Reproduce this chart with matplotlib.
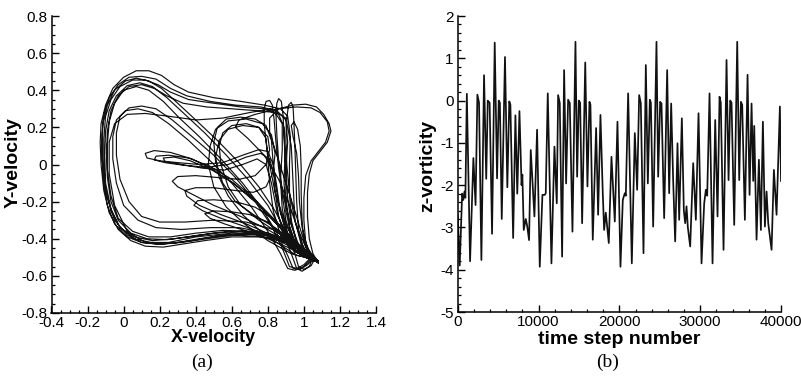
"""Phase portrait of the velocity probe and the z-vorticity time history."""
import matplotlib
matplotlib.use('Agg')
import matplotlib.pyplot as plt
import matplotlib.ticker as mticker
import numpy as np

# --- z-vorticity history: (time step, value) at the turning points of the signal ---
ts_step = [
    0, 250, 550, 700, 850, 950, 1130, 1530, 1940, 2210, 2435, 2640, 2930, 3260,
    3530, 3720, 3950, 4250, 4580, 4870, 5076, 5220, 5450, 5850, 6140, 6380,
    6520, 6860, 7140, 7370, 7640, 7900, 8000, 8171, 8419, 8584, 8831, 9038,
    9492, 9822, 10153,
    10483, 10772, 10895, 11143, 11597, 11969, 12258, 12423, 12629, 12918,
    13166, 13413, 13661, 13868, 14198, 14570, 14776, 14982, 15150, 15395,
    15780, 16052, 16299, 16423, 16712, 17125, 17373, 17662, 17951, 18116,
    18322, 18487, 18694, 19024, 19436, 19767, 20138,
    20427, 20675, 20799, 21088, 21542, 21913, 22202, 22450, 22656, 22987,
    23276, 23524, 23771, 23900, 24182, 24595, 24801, 25049, 25214, 25544,
    25916, 26163, 26411, 26659, 26906, 27195, 27401, 27732, 27979, 28145,
    28310, 28475, 28764, 29136, 29466, 29796, 30167,
    30497, 30704, 30869, 31158, 31530, 31860, 32147, 32395, 32550, 32890,
    33261, 33509, 33715, 33881, 34211, 34582, 34830, 35036, 35200, 35531,
    35862, 36109, 36357, 36563, 36687, 36976, 37265, 37512, 37760, 38008,
    38214, 38420, 38833, 39121, 39451, 39864, 40000,
]
ts_vort = [
    -2.7, -3.9, -2.2, -2.35, -2.15, -2.3, 0.16, -3.8, -1.36, -2.47, 0.14, -0.05,
    -3.77, 0.6, -1.85, 0.0, -0.05, -3.15, 1.37, -1.84, 0.0, -0.05, -2.8, 1.03,
    -2.05, -0.02, -0.1, -3.25, -0.35, -2.2, -0.25, -2.0, -1.75, -3.06, -2.8,
    -2.95, -3.3, -1.17, -2.74, -0.69, -3.93,
    -2.23, -2.23, -2.19, 0.17, -3.85, -1.09, -2.43, 0.13, -0.06, -3.69, 0.72,
    -1.96, 0.02, -0.06, -3.1, 1.39, -1.8, 0.0, -0.05, -2.9, 0.9, -2.03, -0.03,
    -0.1, -3.29, -0.65, -2.7, -0.34, -2.2, -3.06, -2.65, -2.97, -3.37, -1.33,
    -2.86, -0.5, -3.93,
    -2.35, -2.19, -2.25, 0.17, -3.85, -0.77, -2.11, 0.13, -0.06, -3.61, 0.84,
    -1.96, 0.02, -0.05, -2.98, 1.39, -1.8, -0.03, -0.07, -2.78, 0.72, -2.19,
    -0.07, -1.9, -3.33, -1.01, -2.82, -0.42, -2.6, -2.9, -2.5, -3.0, -3.45,
    -1.48, -2.82, -0.3, -3.85,
    -2.43, -2.11, -2.25, 0.17, -3.85, -0.46, -2.74, 0.09, -0.05, -3.53, 0.96,
    -1.88, 0.0, -0.05, -2.94, 1.39, -1.88, -0.03, -0.1, -2.82, 0.61, -2.23,
    -0.07, -1.9, -0.6, -3.29, -1.4, -3.06, -0.5, -2.98, -2.15, -2.9, -3.53,
    -1.64, -2.7, -0.14, -1.9,
]

# --- (X-velocity, Y-velocity) orbit, traced loop by loop through the lower-right cusp ---
# big loops: bottom band -> left side -> top -> upper-right corner -> down to cusp
outer_loops = [
    [(1.08, -0.53), (1.02, -0.49), (0.95, -0.44), (0.88, -0.41), (0.75, -0.39),
     (0.6, -0.39), (0.45, -0.41), (0.32, -0.43), (0.22, -0.445), (0.12, -0.44),
     (0.04, -0.41), (-0.03, -0.35), (-0.08, -0.26), (-0.11, -0.14), (-0.125, 0.0),
     (-0.13, 0.12), (-0.125, 0.22), (-0.1, 0.32), (-0.06, 0.41), (0.0, 0.47),
     (0.07, 0.505), (0.14, 0.505), (0.21, 0.48), (0.28, 0.43), (0.36, 0.39),
     (0.5, 0.36), (0.65, 0.34), (0.78, 0.32), (0.87, 0.3), (0.91, 0.26),
     (0.925, 0.15), (0.92, 0.0), (0.92, -0.15), (0.93, -0.3), (0.96, -0.42),
     (1.01, -0.49), (1.08, -0.53)],
    [(1.07, -0.52), (1.0, -0.47), (0.93, -0.42), (0.85, -0.39), (0.72, -0.375),
     (0.56, -0.38), (0.42, -0.4), (0.3, -0.42), (0.2, -0.43), (0.1, -0.42),
     (0.02, -0.39), (-0.05, -0.32), (-0.09, -0.22), (-0.11, -0.1), (-0.12, 0.04),
     (-0.12, 0.16), (-0.11, 0.27), (-0.08, 0.36), (-0.03, 0.43), (0.03, 0.47),
     (0.1, 0.475), (0.18, 0.46), (0.26, 0.41), (0.35, 0.37), (0.48, 0.34),
     (0.62, 0.32), (0.76, 0.31), (0.85, 0.29), (0.9, 0.24), (0.91, 0.12),
     (0.9, -0.02), (0.9, -0.18), (0.92, -0.33), (0.96, -0.44), (1.01, -0.5),
     (1.07, -0.52)],
    [(1.06, -0.52), (0.99, -0.46), (0.91, -0.41), (0.82, -0.385), (0.68, -0.375),
     (0.52, -0.385), (0.38, -0.41), (0.26, -0.425), (0.15, -0.42), (0.06, -0.4),
     (-0.02, -0.34), (-0.07, -0.25), (-0.1, -0.13), (-0.11, 0.0), (-0.11, 0.14),
     (-0.1, 0.26), (-0.07, 0.35), (-0.02, 0.42), (0.05, 0.455), (0.12, 0.455),
     (0.19, 0.43), (0.26, 0.39), (0.36, 0.35), (0.5, 0.33), (0.65, 0.31),
     (0.78, 0.3), (0.86, 0.27), (0.89, 0.2), (0.895, 0.05), (0.89, -0.1),
     (0.9, -0.25), (0.93, -0.38), (0.98, -0.47), (1.06, -0.52)],
    [(1.06, -0.51), (0.98, -0.45), (0.9, -0.4), (0.8, -0.37), (0.65, -0.36),
     (0.5, -0.37), (0.36, -0.39), (0.24, -0.405), (0.13, -0.4), (0.04, -0.37),
     (-0.03, -0.3), (-0.07, -0.2), (-0.09, -0.07), (-0.095, 0.06), (-0.09, 0.18),
     (-0.07, 0.29), (-0.03, 0.37), (0.03, 0.42), (0.1, 0.43), (0.17, 0.41),
     (0.24, 0.37), (0.33, 0.33), (0.46, 0.31), (0.6, 0.3), (0.74, 0.29),
     (0.84, 0.28), (0.88, 0.22), (0.88, 0.08), (0.87, -0.08), (0.88, -0.24),
     (0.91, -0.37), (0.97, -0.46), (1.06, -0.51)],
    [(1.05, -0.52), (0.95, -0.44), (0.8, -0.38), (0.6, -0.37), (0.4, -0.39),
     (0.25, -0.42), (0.12, -0.42), (0.02, -0.36), (-0.05, -0.22), (-0.08, -0.05),
     (-0.08, 0.12), (-0.05, 0.22), (0.02, 0.27), (0.12, 0.275), (0.25, 0.26),
     (0.4, 0.24), (0.55, 0.25), (0.7, 0.28), (0.82, 0.3), (0.9, 0.25),
     (0.93, 0.1), (0.94, -0.1), (0.95, -0.3), (0.99, -0.45), (1.05, -0.52)],
]
# loops that come back from the top-left straight across to the cusp
diagonal_loops = [
    [(1.06, -0.51), (0.98, -0.46), (0.9, -0.42), (0.78, -0.39), (0.62, -0.38),
     (0.46, -0.4), (0.32, -0.42), (0.2, -0.43), (0.1, -0.42), (0.02, -0.38),
     (-0.05, -0.3), (-0.09, -0.18), (-0.115, -0.04), (-0.12, 0.1), (-0.115, 0.22),
     (-0.09, 0.32), (-0.05, 0.4), (0.01, 0.45), (0.07, 0.465), (0.14, 0.45),
     (0.21, 0.41), (0.3, 0.33), (0.4, 0.24), (0.52, 0.13), (0.64, 0.01),
     (0.75, -0.12), (0.84, -0.25), (0.91, -0.38), (0.95, -0.48), (0.97, -0.55),
     (1.0, -0.565), (1.04, -0.545), (1.06, -0.51)],
    [(1.05, -0.5), (0.97, -0.44), (0.88, -0.4), (0.75, -0.37), (0.58, -0.36),
     (0.42, -0.38), (0.28, -0.4), (0.16, -0.41), (0.06, -0.39), (-0.02, -0.34),
     (-0.07, -0.24), (-0.1, -0.1), (-0.105, 0.05), (-0.1, 0.18), (-0.08, 0.29),
     (-0.04, 0.37), (0.02, 0.425), (0.09, 0.44), (0.16, 0.42), (0.24, 0.36),
     (0.34, 0.27), (0.45, 0.17), (0.57, 0.05), (0.69, -0.08), (0.8, -0.22),
     (0.88, -0.36), (0.93, -0.48), (0.96, -0.56), (0.99, -0.575), (1.03, -0.55),
     (1.05, -0.5)],
    [(1.05, -0.51), (0.96, -0.43), (0.86, -0.39), (0.72, -0.36), (0.55, -0.355),
     (0.4, -0.37), (0.26, -0.39), (0.14, -0.39), (0.05, -0.36), (-0.03, -0.29),
     (-0.07, -0.17), (-0.09, -0.03), (-0.09, 0.11), (-0.08, 0.23), (-0.05, 0.33),
     (0.0, 0.4), (0.07, 0.42), (0.14, 0.4), (0.22, 0.34), (0.31, 0.25),
     (0.42, 0.15), (0.54, 0.03), (0.66, -0.1), (0.77, -0.24), (0.85, -0.37),
     (0.91, -0.49), (0.94, -0.56), (0.98, -0.565), (1.02, -0.54), (1.05, -0.51)],
    [(1.04, -0.5), (0.95, -0.42), (0.83, -0.35), (0.68, -0.31), (0.5, -0.3),
     (0.34, -0.31), (0.2, -0.31), (0.1, -0.28), (0.03, -0.2), (-0.02, -0.08),
     (-0.04, 0.05), (-0.04, 0.17), (-0.02, 0.26), (0.03, 0.305), (0.1, 0.315),
     (0.18, 0.3), (0.27, 0.24), (0.38, 0.15), (0.5, 0.05), (0.62, -0.07),
     (0.73, -0.2), (0.82, -0.33), (0.88, -0.45), (0.92, -0.55), (0.96, -0.56),
     (1.0, -0.54), (1.04, -0.5)],
    [(1.04, -0.51), (0.94, -0.43), (0.8, -0.37), (0.64, -0.34), (0.48, -0.34),
     (0.32, -0.35), (0.18, -0.34), (0.08, -0.3), (0.0, -0.22), (-0.04, -0.1),
     (-0.06, 0.03), (-0.06, 0.15), (-0.04, 0.24), (0.01, 0.29), (0.08, 0.3),
     (0.16, 0.28), (0.25, 0.22), (0.36, 0.13), (0.48, 0.02), (0.6, -0.1),
     (0.71, -0.23), (0.8, -0.36), (0.87, -0.48), (0.91, -0.56), (0.95, -0.57),
     (1.0, -0.55), (1.04, -0.51)],
]
# narrow loops reaching left into the middle of the attractor
inner_loops = [
    [(1.05, -0.5), (0.95, -0.42), (0.85, -0.32), (0.74, -0.21), (0.62, -0.11),
     (0.5, -0.03), (0.38, 0.03), (0.26, 0.065), (0.17, 0.075), (0.12, 0.06),
     (0.13, 0.035), (0.2, 0.02), (0.3, 0.01), (0.42, 0.0), (0.55, 0.01),
     (0.66, 0.05), (0.75, 0.08), (0.8, 0.07), (0.83, 0.0), (0.85, -0.12),
     (0.87, -0.26), (0.91, -0.38), (0.97, -0.46), (1.05, -0.5)],
    [(1.04, -0.49), (0.94, -0.4), (0.83, -0.29), (0.72, -0.18), (0.6, -0.08),
     (0.48, -0.01), (0.36, 0.035), (0.25, 0.05), (0.18, 0.045), (0.17, 0.025),
     (0.23, 0.01), (0.34, -0.005), (0.46, -0.015), (0.58, 0.0), (0.68, 0.04),
     (0.76, 0.06), (0.81, 0.03), (0.84, -0.08), (0.86, -0.22), (0.9, -0.36),
     (0.96, -0.45), (1.04, -0.49)],
    [(1.04, -0.5), (0.94, -0.41), (0.84, -0.31), (0.73, -0.2), (0.61, -0.1),
     (0.49, -0.03), (0.37, 0.02), (0.28, 0.04), (0.22, 0.035), (0.23, 0.015),
     (0.32, 0.0), (0.44, -0.02), (0.56, -0.03), (0.66, 0.0), (0.74, 0.03),
     (0.79, 0.0), (0.82, -0.1), (0.85, -0.25), (0.89, -0.37), (0.95, -0.46),
     (1.04, -0.5)],
    [(1.03, -0.5), (0.93, -0.43), (0.8, -0.35), (0.65, -0.28), (0.5, -0.22),
     (0.38, -0.16), (0.3, -0.12), (0.27, -0.09), (0.3, -0.065), (0.4, -0.06),
     (0.52, -0.07), (0.64, -0.08), (0.73, -0.06), (0.79, 0.0), (0.81, 0.08),
     (0.8, 0.15), (0.75, 0.2), (0.66, 0.21), (0.58, 0.19), (0.53, 0.13),
     (0.51, 0.04), (0.53, -0.07), (0.58, -0.17), (0.66, -0.27), (0.76, -0.36),
     (0.88, -0.44), (0.96, -0.49), (1.03, -0.5)],
    [(1.04, -0.51), (0.94, -0.44), (0.82, -0.38), (0.68, -0.32), (0.54, -0.27),
     (0.42, -0.22), (0.35, -0.17), (0.34, -0.14), (0.4, -0.125), (0.5, -0.125),
     (0.62, -0.14), (0.72, -0.15), (0.79, -0.12), (0.83, -0.04), (0.84, 0.06),
     (0.82, 0.16), (0.77, 0.22), (0.68, 0.245), (0.58, 0.235), (0.51, 0.19),
     (0.48, 0.1), (0.47, 0.0), (0.5, -0.12), (0.57, -0.23), (0.67, -0.32),
     (0.8, -0.41), (0.93, -0.48), (1.04, -0.51)],
    [(1.02, -0.5), (0.92, -0.44), (0.8, -0.38), (0.66, -0.33), (0.54, -0.29),
     (0.44, -0.25), (0.39, -0.22), (0.41, -0.195), (0.5, -0.19), (0.62, -0.2),
     (0.73, -0.23), (0.81, -0.28), (0.88, -0.35), (0.95, -0.44), (1.02, -0.5)],
    [(1.03, -0.51), (0.92, -0.45), (0.8, -0.4), (0.67, -0.355), (0.56, -0.32),
     (0.48, -0.29), (0.45, -0.265), (0.5, -0.25), (0.6, -0.255), (0.7, -0.27),
     (0.8, -0.31), (0.88, -0.38), (0.95, -0.46), (1.03, -0.51)],
    [(1.05, -0.5), (0.95, -0.42), (0.84, -0.34), (0.72, -0.27), (0.62, -0.2),
     (0.55, -0.1), (0.51, 0.02), (0.5, 0.12), (0.52, 0.2), (0.57, 0.245),
     (0.65, 0.255), (0.73, 0.245), (0.79, 0.21), (0.82, 0.13), (0.83, 0.0),
     (0.84, -0.14), (0.86, -0.28), (0.9, -0.4), (0.97, -0.48), (1.05, -0.5)],
    [(1.05, -0.51), (0.96, -0.44), (0.86, -0.37), (0.75, -0.3), (0.65, -0.22),
     (0.58, -0.12), (0.54, 0.0), (0.53, 0.1), (0.55, 0.17), (0.6, 0.21),
     (0.68, 0.22), (0.75, 0.2), (0.79, 0.14), (0.8, 0.03), (0.81, -0.1),
     (0.83, -0.25), (0.87, -0.38), (0.95, -0.47), (1.05, -0.51)],
]
# right-hand lobe and the thin spikes at the top right
lobe_loops = [
    [(1.08, -0.53), (1.03, -0.47), (0.99, -0.38), (0.95, -0.25), (0.9, -0.1),
     (0.85, 0.05), (0.81, 0.17), (0.81, 0.25), (0.86, 0.3), (0.94, 0.32),
     (1.01, 0.325), (1.07, 0.31), (1.11, 0.27), (1.14, 0.22), (1.15, 0.18),
     (1.13, 0.12), (1.09, 0.07), (1.05, 0.02), (1.03, -0.05), (1.02, -0.15),
     (1.02, -0.28), (1.03, -0.4), (1.05, -0.48), (1.08, -0.53)],
    [(1.08, -0.52), (1.02, -0.46), (0.97, -0.36), (0.92, -0.22), (0.86, -0.08),
     (0.78, 0.05), (0.69, 0.14), (0.62, 0.2), (0.64, 0.24), (0.73, 0.27),
     (0.85, 0.3), (0.96, 0.31), (1.04, 0.305), (1.09, 0.28), (1.13, 0.23),
     (1.14, 0.18), (1.12, 0.12), (1.08, 0.07), (1.04, 0.02), (1.01, -0.06),
     (1.0, -0.18), (1.0, -0.3), (1.01, -0.42), (1.04, -0.49), (1.08, -0.52)],
    [(1.07, -0.52), (1.02, -0.45), (0.99, -0.34), (0.975, -0.2), (0.97, -0.06),
     (0.96, 0.06), (0.94, 0.15), (0.93, 0.21), (0.945, 0.23), (0.965, 0.19),
     (0.98, 0.1), (0.985, -0.02), (0.985, -0.16), (0.99, -0.3), (1.0, -0.42),
     (1.03, -0.49), (1.07, -0.52)],
    [(1.02, -0.5), (0.95, -0.42), (0.89, -0.3), (0.84, -0.15), (0.81, 0.0),
     (0.79, 0.12), (0.78, 0.22), (0.78, 0.3), (0.79, 0.34), (0.81, 0.345),
     (0.825, 0.32), (0.835, 0.24), (0.845, 0.12), (0.86, -0.02), (0.88, -0.16),
     (0.9, -0.3), (0.94, -0.42), (1.0, -0.5), (1.02, -0.5)],
    [(1.03, -0.51), (0.97, -0.43), (0.92, -0.3), (0.88, -0.14), (0.86, 0.02),
     (0.85, 0.16), (0.845, 0.27), (0.85, 0.33), (0.86, 0.355), (0.875, 0.34),
     (0.885, 0.26), (0.89, 0.14), (0.9, -0.02), (0.91, -0.18), (0.93, -0.32),
     (0.97, -0.45), (1.03, -0.51)],
    [(1.04, -0.51), (0.99, -0.43), (0.95, -0.3), (0.92, -0.15), (0.905, 0.0),
     (0.9, 0.14), (0.905, 0.25), (0.915, 0.32), (0.93, 0.335), (0.94, 0.31),
     (0.945, 0.22), (0.95, 0.1), (0.955, -0.05), (0.96, -0.2), (0.97, -0.35),
     (1.0, -0.46), (1.04, -0.51)],
]

# --- Styling ---
LINE = '#111111'
plt.rcParams.update({
    'font.family': ['Liberation Sans', 'DejaVu Sans'],
    'font.size': 11,
    'axes.linewidth': 1.1,
    'xtick.direction': 'in',
    'ytick.direction': 'in',
    'xtick.major.size': 5,
    'ytick.major.size': 5,
    'xtick.minor.size': 2.5,
    'ytick.minor.size': 2.5,
    'xtick.major.width': 1.0,
    'ytick.major.width': 1.0,
    'xtick.minor.width': 0.9,
    'ytick.minor.width': 0.9,
    'xtick.major.pad': 2,
    'ytick.major.pad': 3,
})


def tick_fmt(v, _):
    if abs(v) < 1e-9:
        return '0'
    return f'{v:.1f}'.rstrip('0').rstrip('.')


def style_ax(ax):
    ax.spines['top'].set_visible(False)
    ax.spines['right'].set_visible(False)
    ax.tick_params(which='both', top=False, right=False)


fig = plt.figure(figsize=(8.01, 3.81), dpi=100)

# (a) phase portrait
ax1 = fig.add_axes([51.5 / 801, 68 / 381, 324.5 / 801, 297 / 381])
style_ax(ax1)
orbit = np.array([pt for fam in (outer_loops, diagonal_loops, inner_loops, lobe_loops)
                  for loop in fam for pt in loop])
ax1.plot(orbit[:, 0], orbit[:, 1], color=LINE, lw=0.85, solid_joinstyle='round')
ax1.set_xlim(-0.4, 1.4)
ax1.set_ylim(-0.8, 0.8)
ax1.xaxis.set_major_locator(mticker.MultipleLocator(0.2))
ax1.xaxis.set_minor_locator(mticker.MultipleLocator(0.05))
ax1.yaxis.set_major_locator(mticker.MultipleLocator(0.2))
ax1.yaxis.set_minor_locator(mticker.MultipleLocator(0.05))
ax1.xaxis.set_major_formatter(mticker.FuncFormatter(tick_fmt))
ax1.yaxis.set_major_formatter(mticker.FuncFormatter(tick_fmt))

# (b) vorticity history
ax2 = fig.add_axes([457.7 / 801, 69 / 381, 323.3 / 801, 296 / 381])
style_ax(ax2)
ax2.plot(ts_step, ts_vort, color=LINE, lw=1.25, solid_joinstyle='round')
ax2.set_xlim(0, 40000)
ax2.set_ylim(-5, 2)
ax2.xaxis.set_major_locator(mticker.MultipleLocator(10000))
ax2.xaxis.set_minor_locator(mticker.MultipleLocator(2000))
ax2.yaxis.set_major_locator(mticker.MultipleLocator(1))
ax2.yaxis.set_minor_locator(mticker.MultipleLocator(0.2))
ax2.xaxis.set_major_formatter(mticker.FormatStrFormatter('%d'))
ax2.yaxis.set_major_formatter(mticker.FormatStrFormatter('%d'))

# axis titles and panel captions
bold = dict(fontweight='bold', ha='center', va='center')
fig.text(213 / 801, 1 - 338 / 381, 'X-velocity', fontsize=13, **bold)
fig.text(13 / 801, 1 - 163 / 381, 'Y-velocity', fontsize=14, rotation=90, **bold)
fig.text(619 / 801, 1 - 340 / 381, 'time step number', fontsize=14, **bold)
fig.text(428 / 801, 1 - 166 / 381, 'z-vorticity', fontsize=14, rotation=90, **bold)
fig.text(202 / 801, 1 - 362 / 381, '(a)', fontsize=14, family='Liberation Serif',
         ha='center', va='center')
fig.text(608 / 801, 1 - 362 / 381, '(b)', fontsize=14, family='Liberation Serif',
         ha='center', va='center')

fig.savefig('out.png', dpi=100, facecolor='white')
print('Saved: out.png')
